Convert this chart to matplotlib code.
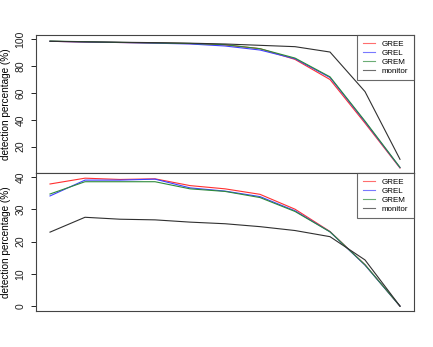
import matplotlib
matplotlib.use("Agg")
import matplotlib.pyplot as plt

plt.rcParams['font.family'] = ['Liberation Sans', 'DejaVu Sans']

x = list(range(1, 12))
series_names = ["GREE", "GREL", "GREM", "monitor"]
colors = ["#ff3030", "#4040ff", "#2e8b3a", "#303030"]

top_GREE = [98.5, 98.0, 97.6, 97.2, 96.8, 95.8, 93.0, 85.0, 70.0, 37.5, 4.0]
top_GREL = [98.5, 98.0, 97.6, 97.1, 96.5, 95.0, 92.0, 85.5, 71.5, 38.5, 4.3]
top_GREM = [98.7, 98.2, 97.7, 97.3, 96.9, 96.0, 93.0, 86.0, 72.0, 39.0, 4.5]
top_monitor = [98.5, 98.1, 97.8, 97.5, 97.1, 96.5, 95.5, 94.5, 90.5, 61.0, 10.5]

bot_GREE = [37.8, 39.6, 39.2, 39.4, 37.3, 36.3, 34.6, 30.0, 23.1, 12.8, 0.0]
bot_GREL = [34.1, 39.0, 39.0, 39.3, 36.6, 35.6, 33.9, 29.5, 23.0, 12.7, 0.0]
bot_GREM = [34.7, 38.5, 38.5, 38.5, 36.3, 35.5, 33.6, 29.3, 23.0, 12.8, 0.0]
bot_monitor = [22.9, 27.5, 26.9, 26.7, 26.0, 25.5, 24.6, 23.4, 21.5, 14.3, 0.0]

top_ticks = [20, 40, 60, 80, 100]
bot_ticks = [0, 10, 20, 30, 40]
ylabel = "detection percentage (%)"

W, H = 433, 347
fig = plt.figure(figsize=(W / 100, H / 100), dpi=100)

ax1 = fig.add_axes([36 / W, (H - 173) / H, (414 - 36) / W, (173 - 35) / H])
ax2 = fig.add_axes([36 / W, (H - 311) / H, (414 - 36) / W, (311 - 173) / H])

def style(ax, data, ticks, ylim):
    for vals, c, n in zip(data, colors, series_names):
        ax.plot(x, vals, color=c, lw=0.8, label=n)
    ax.set_xlim(0.6, 11.4)
    ax.set_ylim(*ylim)
    ax.set_xticks([])
    ax.set_yticks(ticks)
    ax.set_yticklabels([str(t) for t in ticks], rotation=90, va='center', fontsize=7.5)
    ax.tick_params(axis='y', length=3.6, width=0.7, pad=4, colors='#222222')
    for s in ax.spines.values():
        s.set_color('#444444')
        s.set_linewidth(0.8)
    ax.set_ylabel(ylabel, fontsize=7.2, labelpad=3)
    leg = ax.legend(loc='upper right', borderaxespad=0, fancybox=False,
                    fontsize=5.8, handlelength=1.6, handletextpad=0.8,
                    labelspacing=0.15, borderpad=0.7)
    leg.get_frame().set_edgecolor('#444444')
    leg.get_frame().set_linewidth(0.8)
    for l in leg.get_lines():
        l.set_alpha(0.7)

style(ax1, [top_GREE, top_GREL, top_GREM, top_monitor], top_ticks, (0.3, 103.2))
style(ax2, [bot_GREE, bot_GREL, bot_GREM, bot_monitor], bot_ticks, (-1.5, 41.2))

fig.savefig("out.png", dpi=100)
